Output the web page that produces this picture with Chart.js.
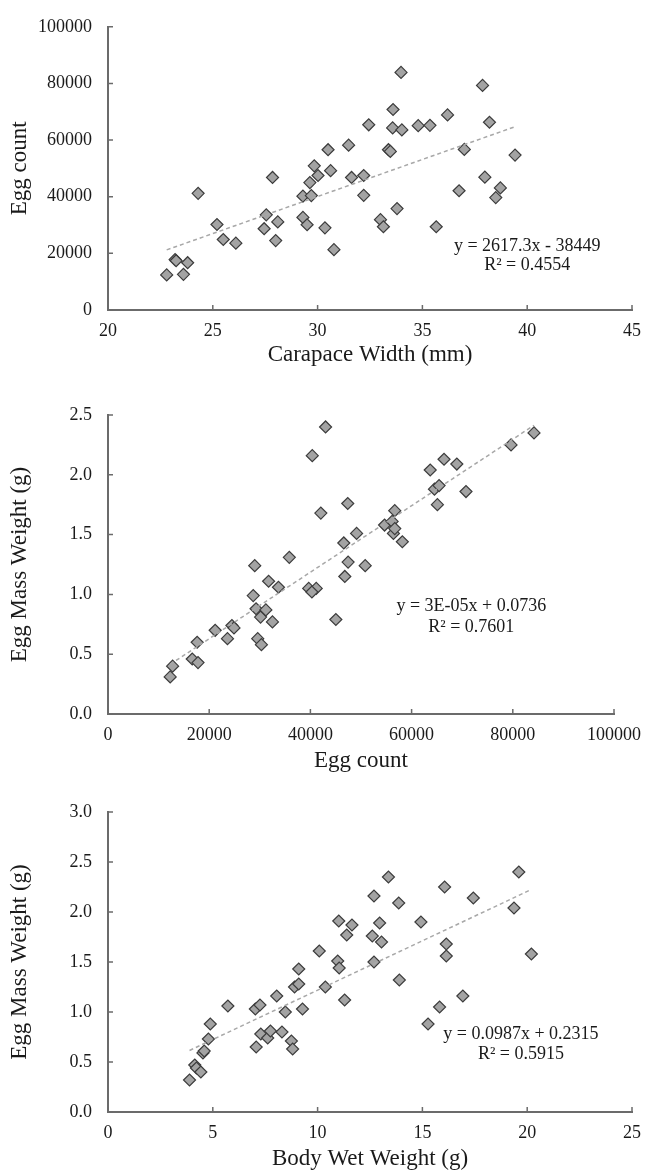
<!DOCTYPE html>
<html>
<head>
<meta charset="utf-8">
<script src="https://cdn.jsdelivr.net/npm/chart.js@4.4.1/dist/chart.umd.min.js"></script>
<style>
body { margin: 0; background: #fff; }
#wrap { position: relative; width: 651px; height: 1174px; }
canvas { position: absolute; left: 0; }
</style>
</head>
<body>
<div id="wrap">
  <canvas id="c1" width="651" height="369" style="top:0px"></canvas>
  <canvas id="c2" width="651" height="395" style="top:380px"></canvas>
  <canvas id="c3" width="651" height="393" style="top:780px"></canvas>
</div>
<script>
// --- chart 1: carapace width vs egg count
const carapaceWidth = [22.8, 23.2, 23.25, 23.6, 23.8, 24.3, 25.2, 25.5, 26.1, 27.45, 27.55, 27.85, 28.0, 28.1,
  29.3, 29.3, 29.5, 29.63, 29.7, 29.84, 30.02, 30.35, 30.5, 30.62, 30.78, 31.48, 31.62, 32.2, 32.2, 32.44,
  33.0, 33.14, 33.38, 33.47, 33.58, 33.6, 33.79, 33.98, 34.02, 34.8, 35.36, 35.66, 36.2, 36.75, 37.0,
  37.87, 37.98, 38.2, 38.5, 38.72, 39.42];
const eggCount1 = [12400, 17800, 17400, 12600, 16700, 41200, 30200, 24900, 23600, 28700, 33600, 46800, 24500, 31100,
  40200, 32700, 30100, 45000, 40400, 50900, 47500, 29000, 56600, 49200, 21300, 58200, 46800, 47500, 40500, 65400,
  31900, 29400, 56600, 56000, 64300, 70800, 35800, 83900, 63600, 65100, 65200, 29400, 68900, 42100, 56700,
  79300, 46900, 66300, 39700, 43100, 54700];

// --- chart 2: egg count vs egg mass weight
const eggCount2 = [12290, 12770, 16650, 17790, 17620, 21180, 23610, 24490, 24900, 28700, 29000, 29260, 29590, 30150,
  30320, 31200, 31740, 32500, 33690, 35830, 39670, 40370, 41150, 40300, 42060, 43000, 45030, 46600, 46800,
  47380, 47450, 49130, 50830, 54660, 56150, 56410, 56670, 56670, 58170, 63680, 64520, 65100, 65430, 66410,
  68940, 70750, 79650, 84190];
const eggMass2 = [0.31, 0.40, 0.46, 0.43, 0.60, 0.70, 0.63, 0.74, 0.72, 0.99, 1.24, 0.88, 0.63, 0.81,
  0.58, 0.87, 1.11, 0.77, 1.06, 1.31, 1.05, 2.16, 1.05, 1.02, 1.68, 2.40, 0.79, 1.43, 1.15,
  1.76, 1.27, 1.51, 1.24, 1.58, 1.61, 1.51, 1.55, 1.70, 1.44, 2.04, 1.88, 1.75, 1.91, 2.13,
  2.09, 1.86, 2.25, 2.35];

// --- chart 3: body wet weight vs egg mass weight
const bodyWeight = [3.89, 4.14, 4.22, 4.43, 4.53, 4.59, 4.79, 4.88, 5.72, 7.03, 7.07, 7.25, 7.29, 7.62, 7.75,
  8.05, 8.3, 8.46, 8.75, 8.81, 8.9, 9.1, 9.1, 9.28, 10.08, 10.37, 10.96, 11.01, 11.03, 11.29, 11.39,
  11.64, 12.61, 12.69, 12.69, 12.96, 13.05, 13.38, 13.87, 13.9, 14.93, 15.27, 15.82, 16.06, 16.14,
  16.14, 16.93, 17.43, 19.37, 19.6, 20.2];
const eggMass3 = [0.32, 0.47, 0.44, 0.40, 0.59, 0.61, 0.73, 0.88, 1.06, 1.03, 0.65, 1.07, 0.78, 0.74, 0.81,
  1.16, 0.80, 1.00, 0.71, 0.63, 1.25, 1.28, 1.43, 1.03, 1.61, 1.25, 1.51, 1.91, 1.44, 1.12, 1.77,
  1.87, 1.76, 2.16, 1.50, 1.89, 1.70, 2.35, 2.09, 1.32, 1.90, 0.88, 1.05, 2.25, 1.68,
  1.56, 1.16, 2.14, 2.04, 2.40, 1.58];

// trendline coefficients and labels
const trend1 = { slope: 2617.3, intercept: -38449, eq: 'y = 2617.3x - 38449', r2: 'R\u00B2 = 0.4554' };
const trend2 = { slope: 0.0000278, intercept: 0.0736, eq: 'y = 3E-05x + 0.0736', r2: 'R\u00B2 = 0.7601' };
const trend3 = { slope: 0.0987, intercept: 0.2315, eq: 'y = 0.0987x + 0.2315', r2: 'R\u00B2 = 0.5915' };

const FONT = "'Liberation Serif', 'Times New Roman', serif";
const AXIS = '#6b6b6b';
const TEXT = '#1a1a1a';

// excel style tick marks pointing into the plot
const innerTicks = {
  id: 'innerTicks',
  afterDraw(chart) {
    const ctx = chart.ctx;
    const xs = chart.scales.x, ys = chart.scales.y;
    const area = chart.chartArea;
    ctx.save();
    ctx.strokeStyle = AXIS;
    ctx.lineWidth = 1.5;
    ctx.beginPath();
    xs.ticks.forEach(t => {
      const px = xs.getPixelForValue(t.value);
      ctx.moveTo(px, area.bottom);
      ctx.lineTo(px, area.bottom - 5);
    });
    ys.ticks.forEach(t => {
      const py = ys.getPixelForValue(t.value);
      ctx.moveTo(area.left, py);
      ctx.lineTo(area.left + 5, py);
    });
    ctx.stroke();
    ctx.restore();
  }
};

// equation + R² text
const eqLabel = {
  id: 'eqLabel',
  afterDraw(chart) {
    const o = chart.options.plugins.eqLabel;
    const ctx = chart.ctx;
    const xs = chart.scales.x, ys = chart.scales.y;
    ctx.save();
    ctx.font = '18px ' + FONT;
    ctx.fillStyle = TEXT;
    ctx.textAlign = 'center';
    ctx.textBaseline = 'middle';
    ctx.fillText(o.eq, xs.getPixelForValue(o.x), ys.getPixelForValue(o.y1));
    ctx.fillText(o.r2, xs.getPixelForValue(o.x), ys.getPixelForValue(o.y2));
    ctx.restore();
  }
};

function makeChart(id, cfg) {
  const pts = cfg.xs.map((x, i) => ({ x: x, y: cfg.ys[i] }));
  const lo = Math.min(...cfg.xs), hi = Math.max(...cfg.xs);
  const f = x => cfg.trend.slope * x + cfg.trend.intercept;

  const fmtX = v => String(v);
  const fmtY = v => cfg.yDec ? Number(v).toFixed(cfg.yDec) : String(v);

  return new Chart(document.getElementById(id), {
    type: 'scatter',
    data: {
      datasets: [
        {
          data: [{ x: lo, y: f(lo) }, { x: hi, y: f(hi) }],
          showLine: true,
          borderColor: '#a8a8a8',
          borderWidth: 1.5,
          borderDash: [4, 3],
          pointRadius: 0,
          order: 0
        },
        {
          data: pts,
          pointStyle: 'rectRot',
          pointRadius: 6,
          backgroundColor: '#a3a3a3',
          borderColor: '#3c3c3c',
          borderWidth: 1.2,
          order: 1
        }
      ]
    },
    options: {
      responsive: false,
      animation: false,
      layout: { padding: { top: cfg.padTop, right: cfg.padRight, left: 0, bottom: 0 } },
      plugins: {
        legend: { display: false },
        tooltip: { enabled: false },
        eqLabel: { eq: cfg.trend.eq, r2: cfg.trend.r2, x: cfg.eqX, y1: cfg.eqY1, y2: cfg.eqY2 }
      },
      scales: {
        x: {
          type: 'linear',
          min: cfg.xMin, max: cfg.xMax,
          afterFit: s => { s.height = cfg.xh; },
          grid: { display: false, drawTicks: false },
          border: { display: true, color: AXIS, width: 2 },
          ticks: { stepSize: cfg.xStep, padding: 10, color: TEXT, font: { family: FONT, size: 18 }, callback: fmtX, maxRotation: 0 },
          title: { display: true, text: cfg.xTitle, color: TEXT, font: { family: FONT, size: 23 }, padding: 0 }
        },
        y: {
          type: 'linear',
          min: cfg.yMin, max: cfg.yMax,
          afterFit: s => { s.width = 108; },
          grid: { display: false, drawTicks: false },
          border: { display: true, color: AXIS, width: 2 },
          ticks: { stepSize: cfg.yStep, padding: 16, color: TEXT, font: { family: FONT, size: 18 }, callback: fmtY },
          title: { display: true, text: cfg.yTitle, color: TEXT, font: { family: FONT, size: 23 }, padding: { top: 6, bottom: 0 } }
        }
      }
    },
    plugins: [innerTicks, eqLabel]
  });
}

makeChart('c1', {
  xs: carapaceWidth, ys: eggCount1, trend: trend1,
  xMin: 20, xMax: 45, xStep: 5, yMin: 0, yMax: 100000, yStep: 20000, yDec: 0,
  xTitle: 'Carapace Width (mm)', yTitle: 'Egg count',
  padTop: 17, padRight: 11, xh: 59,
  eqX: 40.0, eqY1: 22400, eqY2: 15900
});

makeChart('c2', {
  xs: eggCount2, ys: eggMass2, trend: trend2,
  xMin: 0, xMax: 100000, xStep: 20000, yMin: 0, yMax: 2.5, yStep: 0.5, yDec: 1,
  xTitle: 'Egg count', yTitle: 'Egg Mass Weight (g)',
  padTop: 35, padRight: 30, xh: 61,
  eqX: 71800, eqY1: 0.90, eqY2: 0.725
});

makeChart('c3', {
  xs: bodyWeight, ys: eggMass3, trend: trend3,
  xMin: 0, xMax: 25, xStep: 5, yMin: 0, yMax: 3, yStep: 0.5, yDec: 1,
  xTitle: 'Body Wet Weight (g)', yTitle: 'Egg Mass Weight (g)',
  padTop: 32, padRight: 12, xh: 61,
  eqX: 19.7, eqY1: 0.78, eqY2: 0.58
});
</script>
</body>
</html>
